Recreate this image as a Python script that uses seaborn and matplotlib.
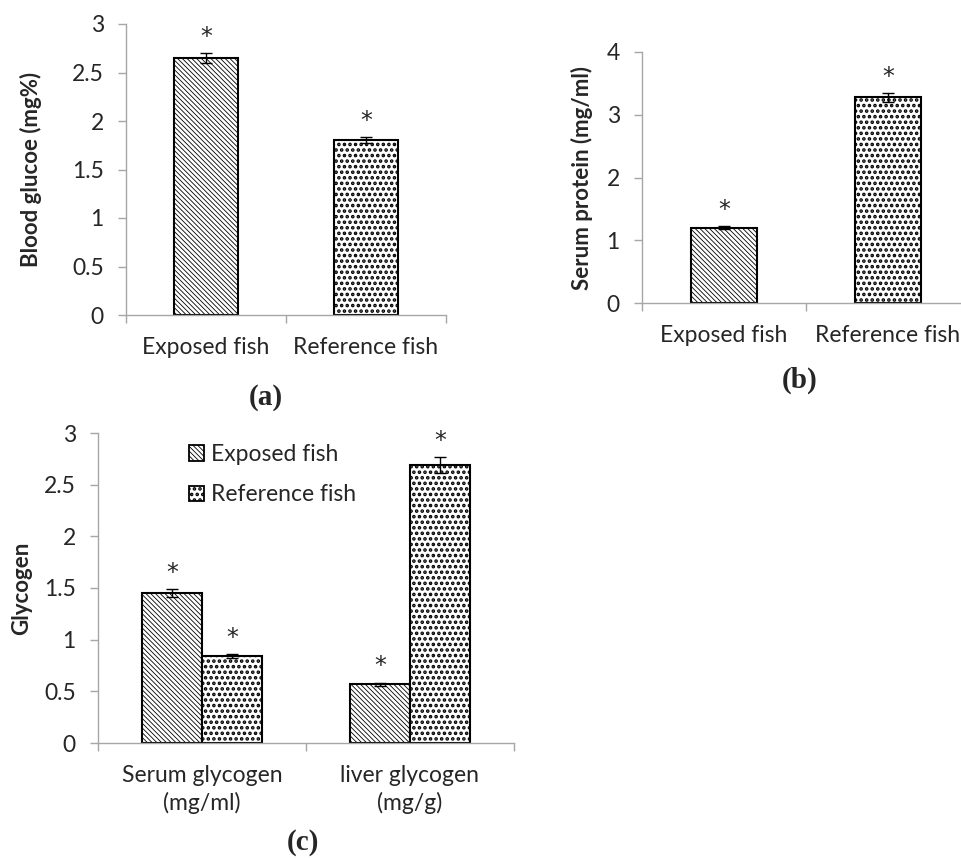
import numpy as np
import pandas as pd
import matplotlib.pyplot as plt
import seaborn as sns
from matplotlib.patches import Patch

# Data
groups = ["Exposed fish", "Reference fish"]
glucose = [2.65, 1.80]
glucose_err = [0.05, 0.03]
protein = [1.20, 3.28]
protein_err = [0.02, 0.07]
glycogen_types = ["Serum glycogen\n(mg/ml)", "liver glycogen\n(mg/g)"]
glycogen_exposed = [1.45, 0.57]
glycogen_exposed_err = [0.04, 0.015]
glycogen_reference = [0.84, 2.69]
glycogen_reference_err = [0.02, 0.08]

W, H = 961, 858
AXIS_GRAY = "#A6A6A6"
HATCHES = {"Exposed fish": "\\" * 7, "Reference fish": "..."}
HATCH_LW = {"Exposed fish": 0.6, "Reference fish": 1.75}
FS = 16.5

sns.set_style("ticks")
plt.rcParams["font.family"] = ["Lato", "DejaVu Sans"]
plt.rcParams["hatch.linewidth"] = 0.8

fig = plt.figure(figsize=(W / 100, H / 100), dpi=100)


def axes_px(left, right, top, bottom):
    return fig.add_axes([left / W, 1 - bottom / H, (right - left) / W, (bottom - top) / H])


def set_hatch(bar, name):
    bar.set_hatch(HATCHES[name])
    if hasattr(bar, "set_hatch_linewidth"):
        bar.set_hatch_linewidth(HATCH_LW[name])


def style_axis(ax, ymax, ystep, ylabel, label_x):
    ax.set_ylim(0, ymax)
    ticks = np.arange(0, ymax + ystep / 2, ystep)
    ax.set_yticks(ticks)
    ax.set_yticklabels([f"{t:g}" for t in ticks])
    ax.set_xlim(-0.5, 1.5)
    ax.set_xticks([-0.5, 0.5, 1.5], minor=True)
    ax.tick_params(axis="x", which="major", length=0, pad=16, labelsize=FS)
    ax.tick_params(axis="x", which="minor", length=6, width=1, color=AXIS_GRAY, direction="out")
    ax.tick_params(axis="y", length=6, width=1, color=AXIS_GRAY, pad=10, labelsize=FS, direction="out")
    sns.despine(ax=ax)
    for s in ("left", "bottom"):
        ax.spines[s].set_color(AXIS_GRAY)
        ax.spines[s].set_linewidth(1)
    ax.set_xlabel("")
    ax.set_ylabel(ylabel, fontsize=16, fontweight="bold")
    ax.yaxis.set_label_coords(label_x, 0.5)


def mark_bars(ax, bars, values, errs):
    for bar, v, e in zip(bars, values, errs):
        x = bar.get_x() + bar.get_width() / 2
        ax.errorbar(x, v, yerr=e, fmt="none", ecolor="black", elinewidth=1,
                    capsize=4, capthick=1, zorder=5)
        ax.annotate("*", (x, v + e), xytext=(0, 3), textcoords="offset points",
                    ha="center", va="bottom", fontsize=17, family="DejaVu Sans")


# (a) Blood glucose
ax_a = axes_px(126, 446, 24, 315)
df_a = pd.DataFrame({"group": groups, "value": glucose})
sns.barplot(data=df_a, x="group", y="value", color="white", saturation=1,
            edgecolor="black", linewidth=1.5, width=0.4, errorbar=None, ax=ax_a)
for bar, g in zip(ax_a.patches, groups):
    set_hatch(bar, g)
mark_bars(ax_a, ax_a.patches, glucose, glucose_err)
style_axis(ax_a, 3, 0.5, "Blood glucoe (mg%)", (42 - 126) / 320)

# (b) Serum protein
ax_b = axes_px(642, 970, 52, 303)
df_b = pd.DataFrame({"group": groups, "value": protein})
sns.barplot(data=df_b, x="group", y="value", color="white", saturation=1,
            edgecolor="black", linewidth=1.5, width=0.4, errorbar=None, ax=ax_b)
for bar, g in zip(ax_b.patches, groups):
    set_hatch(bar, g)
mark_bars(ax_b, ax_b.patches, protein, protein_err)
style_axis(ax_b, 4, 1, "Serum protein (mg/ml)", (593 - 642) / 328)

# (c) Glycogen
ax_c = axes_px(98, 514, 433, 743)
df_c = pd.DataFrame({
    "type": glycogen_types * 2,
    "fish": [groups[0]] * 2 + [groups[1]] * 2,
    "value": glycogen_exposed + glycogen_reference,
})
sns.barplot(data=df_c, x="type", y="value", hue="fish", hue_order=groups,
            palette=["white", "white"], saturation=1, edgecolor="black",
            linewidth=1.5, width=0.58, gap=0, errorbar=None, legend=False, ax=ax_c)
for cont, g in zip(ax_c.containers, groups):
    for bar in cont:
        set_hatch(bar, g)
mark_bars(ax_c, ax_c.containers[0], glycogen_exposed, glycogen_exposed_err)
mark_bars(ax_c, ax_c.containers[1], glycogen_reference, glycogen_reference_err)
style_axis(ax_c, 3, 0.5, "Glycogen", (32 - 98) / 416)
for lbl in ax_c.get_xticklabels():
    lbl.set_linespacing(1.3)

handles = [Patch(facecolor="white", edgecolor="black", linewidth=1.3) for g in groups]
leg = ax_c.legend(handles, groups, loc="upper left", frameon=False, fontsize=FS,
                  handlelength=0.65, handleheight=0.65, handletextpad=0.3,
                  labelspacing=0.85, borderpad=0, borderaxespad=0,
                  bbox_to_anchor=((189 - 98) / 416, (743 - 444) / 310))
for p, g in zip(leg.get_patches(), groups):
    set_hatch(p, g)

# panel letters
for txt, x, y in [("(a)", 266, 398), ("(b)", 800, 380), ("(c)", 303, 843)]:
    fig.text(x / W, 1 - y / H, txt, ha="center", va="center",
             family="Liberation Serif", fontweight="bold", fontsize=21)

fig.savefig("out.png", dpi=100)
